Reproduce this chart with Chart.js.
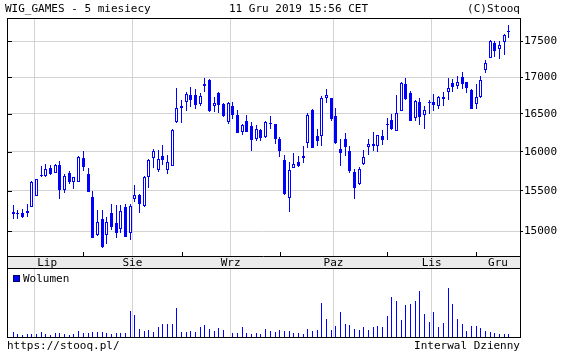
<!DOCTYPE html>
<html>
<head>
<meta charset="utf-8">
<script src="https://cdn.jsdelivr.net/npm/chart.js@4.4.1/dist/chart.umd.min.js"></script>
<style>
  body { margin: 0; background: #fff; }
  #wrap { position: relative; width: 565px; height: 354px; overflow: hidden; }
  canvas { position: absolute; left: 0; top: 0; }
  .t { position: absolute; font: 11px 'DejaVu Sans Mono', monospace; line-height: 11px; color: #000; white-space: pre; }
</style>
</head>
<body>
<div id="wrap">
  <canvas id="price" width="565" height="354"></canvas>
  <canvas id="vol" width="565" height="354"></canvas>
  <div class="t" style="left:5px;top:3px">WIG_GAMES - 5 miesiecy</div>
  <div class="t" style="left:229px;top:3px">11 Gru 2019 15:56 CET</div>
  <div class="t" style="right:45px;top:3px">(C)Stooq</div>
  <div style="position:absolute;left:13px;top:275px;width:5px;height:5px;background:#0000ff;border:1px solid #000060"></div>
  <div class="t" style="left:23px;top:273px">Wolumen</div>
  <div class="t" style="left:7px;top:340px">https://stooq.pl/</div>
  <div class="t" style="right:45px;top:340px">Interwal Dzienny</div>
</div>
<script>
// months shown in the band, and index of the first session of each month
const months = ['Lip', 'Sie', 'Wrz', 'Paz', 'Lis', 'Gru'];
const monthStart = [0, 15, 36, 57, 80, 99];
const priceTicks = [15000, 15500, 16000, 16500, 17000, 17500];

// daily sessions 11 Jul 2019 - 11 Dec 2019
const open = [15240, 15215, 15220, 15220, 15300, 15440, 15695, 15690, 15785, 15730, 15835, 15510, 15730, 15615, 15615,
  15915, 15720, 15420, 14950, 15145, 14950, 15230, 15100, 15025, 15295, 14975, 15400, 15445, 15310, 15680, 15920, 15765, 15940, 15765, 15820, 16385,
  16580, 16655, 16755, 16755, 16635, 16875, 16960, 16600, 16780, 16630, 16390, 16600, 16480, 16260, 16400, 16335, 16165, 16290, 16190, 16370, 16360,
  16170, 15895, 15415, 15795, 15870, 15950, 16115, 16555, 16210, 16200, 16710, 16710, 16465, 16030, 16170, 16010, 15745, 15590, 15840, 16060, 16105, 16075, 16210,
  16345, 16420, 16276, 16542, 16903, 16782, 16451, 16653, 16487, 16650, 16657, 16611, 16703, 16800, 16921, 16883, 17000, 16931, 16824,
  16639, 16722, 17097, 17264, 17481, 17389, 17486, 17630];
const high = [15320, 15260, 15270, 15340, 15620, 15650, 15820, 15845, 15835, 15845, 15875, 15720, 15755, 15680, 15940,
  16015, 15795, 15505, 15260, 15260, 15180, 15335, 15320, 15320, 15340, 15335, 15570, 15465, 15685, 15910, 16035, 16025, 16085, 15955, 16295, 16850,
  16685, 16790, 16860, 16835, 16780, 16985, 16970, 16730, 16795, 16645, 16655, 16655, 16545, 16360, 16480, 16390, 16345, 16305, 16410, 16465, 16365,
  16190, 15955, 15865, 15985, 15950, 16070, 16510, 16560, 16295, 16740, 16835, 16720, 16585, 16170, 16245, 16070, 15775, 15810, 16025, 16170, 16260, 16225, 16280,
  16445, 16500, 16754, 16930, 16986, 16810, 16685, 16708, 16601, 16685, 16764, 16740, 16796, 16986, 16972, 17018, 17074, 16935, 16837,
  16907, 17008, 17240, 17512, 17504, 17508, 17599, 17730];
const low = [15150, 15150, 15160, 15180, 15295, 15435, 15675, 15675, 15700, 15725, 15400, 15470, 15590, 15525, 15610,
  15750, 15483, 14920, 14945, 14800, 14850, 15015, 14925, 14975, 14935, 14900, 15360, 15225, 15305, 15535, 15795, 15740, 15835, 15720, 15815, 16380,
  16380, 16535, 16590, 16560, 16605, 16800, 16520, 16520, 16510, 16455, 16360, 16430, 16245, 16220, 16255, 16015, 16140, 16145, 16180, 16305, 16095,
  15930, 15455, 15240, 15790, 15800, 15860, 16050, 16045, 16070, 16075, 16645, 16410, 16100, 15815, 15940, 15730, 15400, 15580, 15830, 15955, 16010, 15995, 16085,
  16160, 16290, 16272, 16540, 16681, 16405, 16408, 16355, 16303, 16495, 16542, 16570, 16606, 16681, 16800, 16837, 16833, 16778, 16565,
  16570, 16718, 17056, 17260, 17278, 17250, 17306, 17542];
const close = [15210, 15210, 15170, 15255, 15615, 15645, 15700, 15775, 15715, 15835, 15510, 15695, 15610, 15675, 15935,
  15805, 15485, 14925, 15110, 14805, 15110, 15055, 14985, 15255, 14935, 15315, 15445, 15335, 15680, 15890, 16015, 15910, 15900, 15870, 16290, 16585,
  16600, 16770, 16690, 16625, 16735, 16905, 16535, 16640, 16620, 16470, 16640, 16480, 16245, 16355, 16258, 16160, 16305, 16180, 16385, 16375, 16165,
  16015, 15460, 15760, 15845, 15815, 15925, 16478, 16050, 16145, 16710, 16755, 16425, 16115, 15980, 16060, 15750, 15535, 15775, 15935, 16105, 16075, 16215, 16160,
  16350, 16297, 16514, 16921, 16699, 16408, 16667, 16460, 16556, 16655, 16625, 16731, 16722, 16847, 16865, 16935, 16907, 16847, 16570,
  16722, 16958, 17194, 17508, 17361, 17444, 17585, 17635];
const volume = [50, 33, 17, 27, 33, 30, 50, 27, 23, 40, 37, 27, 20, 27, 60,
  43, 37, 50, 50, 47, 40, 30, 37, 40, 43, 260, 220, 77, 63, 70, 47, 100, 130, 130, 130, 290,
  50, 53, 57, 50, 100, 120, 80, 63, 90, 70, 0, 43, 43, 100, 43, 33, 43, 30, 80, 60, 47,
  70, 60, 60, 43, 43, 30, 80, 60, 70, 340, 180, 70, 110, 250, 130, 120, 80, 70, 100, 70, 100, 110, 100,
  210, 400, 360, 170, 320, 330, 360, 460, 230, 150, 250, 100, 140, 490, 330, 180, 130, 60, 110,
  110, 90, 60, 50, 40, 30, 30, 30];

const BLUE = '#0000ff';
const GRID = '#d3d3d3';
const xMin = -1.33;
const xMax = open.length + 1.4;

Chart.defaults.font.family = "'DejaVu Sans Mono', monospace";
Chart.defaults.font.size = 11;
Chart.defaults.color = '#000';

function monthCenter(k) {
  const a = k === 0 ? -0.5 : monthStart[k];
  const b = k < months.length - 1 ? monthStart[k + 1] : xMax;
  return (a + b) / 2;
}

// keep the thin bars on whole pixels
function snapBars(chart) {
  chart.getSortedVisibleDatasetMetas().forEach(meta => {
    meta.data.forEach(el => {
      el.x = Math.floor(el.x) + 0.5;
      let top = Math.round(Math.min(el.y, el.base));
      let bot = Math.round(Math.max(el.y, el.base));
      if (bot - top < 1) bot = top + 1;
      el.y = top;
      el.base = bot;
    });
  });
}

const frame = {
  id: 'frame',
  beforeDraw(chart, args, opts) {
    if (!opts.band) return;
    const { ctx, chartArea: a, scales } = chart;
    ctx.save();
    ctx.fillStyle = '#ebebeb';
    ctx.fillRect(a.left, scales.x.top, a.right - a.left, scales.x.bottom - scales.x.top);
    ctx.restore();
  },
  beforeDatasetsDraw(chart) {
    snapBars(chart);
  },
  afterDraw(chart, args, opts) {
    const { ctx, chartArea: a, scales } = chart;
    const bottom = opts.band ? scales.x.bottom : a.bottom;
    ctx.save();
    ctx.strokeStyle = '#000';
    ctx.lineWidth = 1;
    ctx.strokeRect(a.left + 0.5, a.top + 0.5, a.right - a.left, bottom - a.top);
    if (opts.band) {
      ctx.beginPath();
      ctx.moveTo(a.left, a.bottom + 0.5);
      ctx.lineTo(a.right, a.bottom + 0.5);
      scales.y.ticks.forEach(t => {
        const py = Math.round(scales.y.getPixelForValue(t.value)) + 0.5;
        ctx.moveTo(a.left, py);
        ctx.lineTo(a.left + 5, py);
      });
      monthStart.slice(1).forEach(v => {
        const px = Math.round(scales.xg.getPixelForValue(v)) + 0.5;
        ctx.moveTo(px, a.bottom);
        ctx.lineTo(px, a.bottom - 4);
      });
      ctx.stroke();
    }
    ctx.restore();
  }
};

const gridAxis = {
  type: 'linear', position: 'bottom', min: xMin, max: xMax, offset: false,
  grid: { color: GRID, drawTicks: false },
  border: { display: false },
  ticks: { display: false },
  afterBuildTicks: s => { s.ticks = monthStart.slice(1).map(v => ({ value: v })); },
  afterFit: s => { s.height = 0; }
};

new Chart(document.getElementById('price'), {
  type: 'bar',
  data: {
    datasets: [
      {
        label: 'body',
        data: open.map((o, i) => ({ x: i, y: [Math.min(o, close[i]), Math.max(o, close[i])] })),
        backgroundColor: open.map((o, i) => close[i] >= o ? '#ffffff' : BLUE),
        borderColor: BLUE,
        borderWidth: 1,
        borderSkipped: false,
        barThickness: 3,
        minBarLength: 1,
        inflateAmount: 0,
        grouped: false,
        order: 0,
        xAxisID: 'x', yAxisID: 'y'
      },
      {
        label: 'wick',
        data: high.map((h, i) => ({ x: i, y: [low[i], h] })),
        backgroundColor: BLUE,
        borderWidth: 0,
        barThickness: 1,
        minBarLength: 1,
        inflateAmount: 0,
        grouped: false,
        order: 1,
        xAxisID: 'x', yAxisID: 'y'
      }
    ]
  },
  options: {
    responsive: false,
    animation: false,
    devicePixelRatio: 1,
    events: [],
    layout: { padding: { left: 7, top: 18, right: 0, bottom: 86 } },
    plugins: { legend: { display: false }, tooltip: { enabled: false }, frame: { band: true } },
    scales: {
      x: {
        type: 'linear', position: 'bottom', min: xMin, max: xMax, offset: false,
        grid: { display: false, drawTicks: false },
        border: { display: false },
        ticks: { color: '#000', padding: 1, autoSkip: false, maxRotation: 0, callback: (v, i) => months[i] },
        afterBuildTicks: s => { s.ticks = months.map((m, k) => ({ value: monthCenter(k) })); },
        afterFit: s => { s.height = 12; }
      },
      xg: gridAxis,
      y: {
        type: 'logarithmic', position: 'right', min: 14703, max: 17834,
        grid: { color: GRID, tickColor: '#000', tickLength: 3 },
        border: { color: '#000' },
        ticks: { color: '#000', padding: 1, autoSkip: false, callback: v => String(v) },
        afterBuildTicks: s => { s.ticks = priceTicks.map(v => ({ value: v })); },
        afterFit: s => { s.width = 45; }
      }
    }
  },
  plugins: [frame]
});

new Chart(document.getElementById('vol'), {
  type: 'bar',
  data: {
    datasets: [{
      label: 'Wolumen',
      data: volume.map((v, i) => ({ x: i, y: v })),
      backgroundColor: BLUE,
      borderWidth: 0,
      barThickness: 1,
      inflateAmount: 0
    }]
  },
  options: {
    responsive: false,
    animation: false,
    devicePixelRatio: 1,
    events: [],
    layout: { padding: { left: 7, top: 268, right: 45, bottom: 17 } },
    plugins: { legend: { display: false }, tooltip: { enabled: false }, frame: { band: false } },
    scales: {
      x: Object.assign({}, gridAxis),
      y: { display: false, min: 0, max: 690 }
    }
  },
  plugins: [frame]
});
</script>
</body>
</html>
